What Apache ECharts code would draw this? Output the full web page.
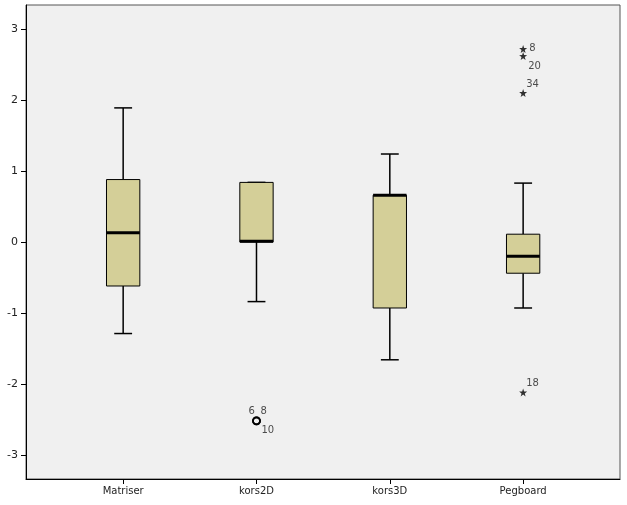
<!DOCTYPE html>
<html>
<head>
<meta charset="UTF-8">
<script src="https://cdn.jsdelivr.net/npm/echarts@6/dist/echarts.min.js"></script>
<style>
  html, body { margin: 0; padding: 0; background: #fff; }
  #chart { width: 627px; height: 505px; }
</style>
</head>
<body>
<div id="chart"></div>
<script>
var categories = ['Matriser', 'kors2D', 'kors3D', 'Pegboard'];
// low whisker, Q1, median, Q3, high whisker
var matriser = [-1.29, -0.62, 0.13, 0.88, 1.89];
var kors2D   = [-0.84, 0.00, 0.01, 0.84, 0.84];
var kors3D   = [-1.66, -0.93, 0.66, 0.66, 1.24];
var pegboard = [-0.93, -0.44, -0.20, 0.11, 0.83];

// outliers (circles) and extremes (stars) with case numbers
var kors2DOutliers   = [-2.52, -2.52, -2.52];
var kors2DOutlierIds = ['6', '8', '10'];
var pegboardExtremes   = [2.72, 2.62, 2.10, -2.12];
var pegboardExtremeIds = ['8', '20', '34', '18'];

var yTicks = [-3, -2, -1, 0, 1, 2, 3];
var yMin = -3.34, yMax = 3.34;

var FONT = 'DejaVu Sans';
var boxes = [matriser, kors2D, kors3D, pegboard].map(function (b, i) {
    return [i].concat(b);
});

// label offsets next to the markers (layout only)
var kors2DLabelPos = [[-8, -9], [4, -9], [5, 10]];
var pegLabelPos = [[6, -1], [5, 10], [3, -9], [3, -9]];

function pointData(cat, vals, ids, pos) {
    return vals.map(function (v, i) {
        return {
            value: [cat, v],
            name: ids[i],
            label: { offset: pos[i] }
        };
    });
}

var chart = echarts.init(document.getElementById('chart'));
chart.setOption({
    animation: false,
    grid: [
        { left: 26, top: 5, right: 7, bottom: 26, show: true, backgroundColor: '#F0F0F0',
          borderColor: '#555', borderWidth: 1, outerBoundsMode: 'none' },
        { left: 56.5, top: 5, right: 37.2, bottom: 26, outerBoundsMode: 'none' }
    ],
    xAxis: [
        { gridIndex: 0, type: 'value', min: 0, max: 1, position: 'bottom',
          axisLine: { show: true, onZero: false, lineStyle: { color: '#000', width: 1 } },
          axisTick: { show: false }, axisLabel: { show: false }, splitLine: { show: false } },
        { gridIndex: 1, type: 'category', data: categories, boundaryGap: true,
          axisLine: { show: false, onZero: false },
          axisTick: { show: true, alignWithLabel: true, length: 5, lineStyle: { color: '#000' } },
          axisLabel: { fontFamily: FONT, fontSize: 10, color: '#222', margin: 7 },
          splitLine: { show: false } }
    ],
    yAxis: [
        { gridIndex: 0, type: 'value', min: yMin, max: yMax,
          axisLine: { show: true, onZero: false, lineStyle: { color: '#000', width: 1 } },
          axisTick: { show: true, length: 5, customValues: yTicks, lineStyle: { color: '#000' } },
          axisLabel: { customValues: yTicks, fontFamily: FONT, fontSize: 11, color: '#222', margin: 8 },
          splitLine: { show: false } },
        { gridIndex: 1, type: 'value', min: yMin, max: yMax, show: false, splitLine: { show: false } }
    ],
    series: [
        {
            type: 'custom',
            xAxisIndex: 1, yAxisIndex: 1,
            data: boxes,
            renderItem: function (params, api) {
                var c = api.value(0);
                var lo = api.coord([c, api.value(1)]);
                var q1 = api.coord([c, api.value(2)]);
                var md = api.coord([c, api.value(3)]);
                var q3 = api.coord([c, api.value(4)]);
                var hi = api.coord([c, api.value(5)]);
                var band = api.size([1, 0])[0];
                var hw = band * 0.125, cw = band * 0.067;
                var x = lo[0];
                var ln = { stroke: '#000', lineWidth: 1.5 };
                return {
                    type: 'group',
                    children: [
                        { type: 'line', shape: { x1: x, y1: hi[1], x2: x, y2: q3[1] }, style: ln },
                        { type: 'line', shape: { x1: x, y1: q1[1], x2: x, y2: lo[1] }, style: ln },
                        { type: 'line', shape: { x1: x - cw, y1: hi[1], x2: x + cw, y2: hi[1] }, style: ln },
                        { type: 'line', shape: { x1: x - cw, y1: lo[1], x2: x + cw, y2: lo[1] }, style: ln },
                        { type: 'rect', shape: { x: x - hw, y: q3[1], width: 2 * hw, height: q1[1] - q3[1] },
                          style: { fill: '#D4CF98', stroke: '#000', lineWidth: 1 } },
                        { type: 'line', shape: { x1: x - hw, y1: md[1], x2: x + hw, y2: md[1] },
                          style: { stroke: '#000', lineWidth: 3 } }
                    ]
                };
            }
        },
        {
            type: 'scatter',
            xAxisIndex: 1, yAxisIndex: 1,
            symbol: 'circle', symbolSize: 7,
            itemStyle: { color: 'rgba(0,0,0,0)', borderColor: '#000', borderWidth: 1.8 },
            label: { show: true, position: 'inside', align: 'left', verticalAlign: 'middle',
                     formatter: '{b}', fontFamily: FONT, fontSize: 10, color: '#222' },
            data: pointData(1, kors2DOutliers, kors2DOutlierIds, kors2DLabelPos)
        },
        {
            type: 'scatter',
            xAxisIndex: 1, yAxisIndex: 1,
            symbol: 'path://M0,-10 L2.35,-3.24 L9.51,-3.09 L3.8,1.24 L5.88,8.09 L0,4 L-5.88,8.09 L-3.8,1.24 L-9.51,-3.09 L-2.35,-3.24 Z',
            symbolSize: 8,
            itemStyle: { color: '#000' },
            label: { show: true, position: 'inside', align: 'left', verticalAlign: 'middle',
                     formatter: '{b}', fontFamily: FONT, fontSize: 10, color: '#222' },
            data: pointData(3, pegboardExtremes, pegboardExtremeIds, pegLabelPos)
        }
    ]
});
</script>
</body>
</html>
